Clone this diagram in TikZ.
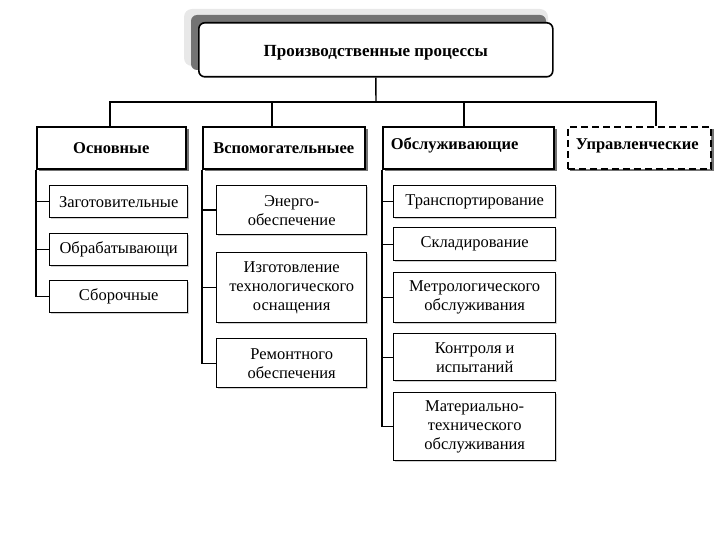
\documentclass[tikz,border=0pt]{standalone}
\usepackage{fontspec}
\setmainfont{Liberation Serif}
\begin{document}
\begin{tikzpicture}[x=1pt,y=-1pt,
  topbox/.style={draw,line width=1.6pt,rounded corners=6pt,fill=white,minimum width=354pt,minimum height=54pt,text height=17pt,text depth=4pt,font=\fontsize{17}{19}\selectfont\bfseries},
  topshadow/.style={fill=black!55,rounded corners=6pt},
  tophalo/.style={fill=black!9,rounded corners=8pt},
  catbox/.style={draw,line width=1.6pt,fill=white,minimum height=42pt,inner sep=4pt,font=\fontsize{16.5}{18}\selectfont\bfseries},
  catshadow/.style={fill=black!55},
  subbox/.style={draw,line width=1.4pt,fill=white,inner sep=2pt,align=center,font=\fontsize{16.5}{19}\selectfont},
  subshadow/.style={fill=black!18},
  conn/.style={line width=1.4pt}
]
\useasboundingbox (0,0) rectangle (720,540);
% top
\fill[tophalo] (184,9) rectangle (548,66);
\fill[topshadow] (191,15) rectangle (546,70);
\node[topbox,anchor=north west] (top) at (198,22) {Производственные процессы};
% categories
\fill[catshadow] (39,129) rectangle (189,171);
\fill[catshadow] (205,129) rectangle (368,171);
\fill[catshadow] (385,129) rectangle (557,171);
\fill[catshadow] (570,129) rectangle (714,171);
\node[catbox,anchor=north west,minimum width=149pt] (c1) at (36,126) {Основные};
\node[catbox,anchor=north west,minimum width=162pt] (c2) at (202,126) {Вспомогательныее};
\node[catbox,anchor=north west,text width=155pt,inner xsep=8pt,align=left,text height=19pt,text depth=15pt] (c3) at (382,126) {Обслуживающие};
\node[catbox,anchor=north west,dash pattern=on 7pt off 4pt,text width=127pt,inner xsep=8pt,align=left,text height=19pt,text depth=15pt] (c4) at (567,126) {Управленческие};
% bus
\coordinate (bus) at (376,102);
\coordinate (t1) at (110,126);
\coordinate (t2) at (272,126);
\coordinate (t3) at (464,126);
\coordinate (t4) at (656,126);
\draw[conn] (top.south) -- (bus);
\draw[conn] (t1) -- (t1|-bus) -- (t4|-bus) -- (t4);
\draw[conn] (t2) -- (t2|-bus);
\draw[conn] (t3) -- (t3|-bus);
% column 1
\foreach \a/\b in {185/217,233/265,280/312}{\fill[subshadow] (51,\a+2) rectangle (189,\b+2);}
\node[subbox,anchor=north west,minimum width=138pt,minimum height=32pt] (s11) at (49,185) {Заготовительные};
\node[subbox,anchor=north west,minimum width=138pt,minimum height=32pt] (s12) at (49,233) {Обрабатывающи};
\node[subbox,anchor=north west,minimum width=138pt,minimum height=32pt] (s13) at (49,280) {Сборочные};
\draw[conn] (c1.south west) |- (s13.west);
\draw[conn] (c1.south west|-s11.west) -- (s11.west);
\draw[conn] (c1.south west|-s12.west) -- (s12.west);
% column 2
\foreach \a/\b in {185/234,252/322,338/387}{\fill[subshadow] (218,\a+2) rectangle (368,\b+2);}
\node[subbox,anchor=north west,minimum width=150pt,minimum height=49pt] (s21) at (216,185) {Энерго-\\обеспечение};
\node[subbox,anchor=north west,minimum width=150pt,minimum height=70pt] (s22) at (216,252) {Изготовление\\технологического\\оснащения};
\node[subbox,anchor=north west,minimum width=150pt,minimum height=49pt] (s23) at (216,338) {Ремонтного\\обеспечения};
\draw[conn] (c2.south west) |- (s23.west);
\draw[conn] (c2.south west|-s21.west) -- (s21.west);
\draw[conn] (c2.south west|-s22.west) -- (s22.west);
% column 3
\foreach \a/\b in {185/217,227/260,272/322,333/380,392/460}{\fill[subshadow] (395,\a+2) rectangle (557,\b+2);}
\node[subbox,anchor=north west,minimum width=162pt,minimum height=32pt] (s31) at (393,185) {Транспортирование};
\node[subbox,anchor=north west,minimum width=162pt,minimum height=33pt] (s32) at (393,227) {Складирование};
\node[subbox,anchor=north west,minimum width=162pt,minimum height=50pt] (s33) at (393,272) {Метрологического\\обслуживания};
\node[subbox,anchor=north west,minimum width=162pt,minimum height=47pt] (s34) at (393,333) {Контроля и\\испытаний};
\node[subbox,anchor=north west,minimum width=162pt,minimum height=68pt] (s35) at (393,392) {Материально-\\технического\\обслуживания};
\draw[conn] (c3.south west) |- (s35.west);
\draw[conn] (c3.south west|-s31.west) -- (s31.west);
\draw[conn] (c3.south west|-s32.west) -- (s32.west);
\draw[conn] (c3.south west|-s33.west) -- (s33.west);
\draw[conn] (c3.south west|-s34.west) -- (s34.west);
\end{tikzpicture}
\end{document}
